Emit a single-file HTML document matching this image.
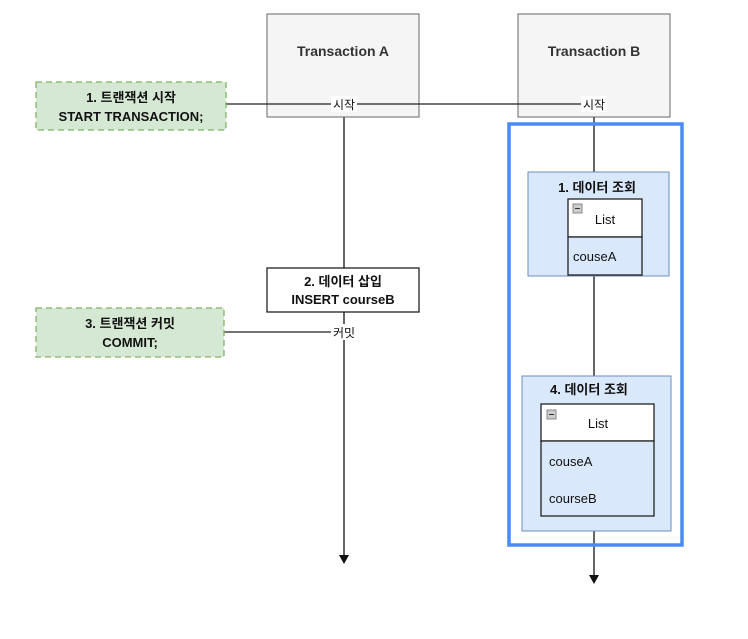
<!DOCTYPE html>
<html><head><meta charset="utf-8"><style>
body{margin:0;background:#fff;}
svg text{font-family:"Liberation Sans","Noto Sans CJK KR",sans-serif;}
</style></head><body>
<svg width="748" height="634" xmlns="http://www.w3.org/2000/svg">
<rect width="748" height="634" fill="#fff"/>
<!-- lifelines -->
<line x1="344" y1="117" x2="344" y2="556" stroke="#333" stroke-width="1.5"/>
<polygon points="339,555 349,555 344,564" fill="#111"/>
<line x1="594" y1="117" x2="594" y2="576" stroke="#333" stroke-width="1.5"/>
<polygon points="589,575 599,575 594,584" fill="#111"/>
<!-- headers -->
<rect x="267" y="14" width="152" height="103" fill="#f5f5f5" stroke="#666"/>
<text x="343" y="56" text-anchor="middle" font-size="14" font-weight="bold" fill="#333">Transaction A</text>
<rect x="518" y="14" width="152" height="103" fill="#f5f5f5" stroke="#666"/>
<text x="594" y="56" text-anchor="middle" font-size="14" font-weight="bold" fill="#333">Transaction B</text>
<!-- start line -->
<line x1="226" y1="104" x2="594" y2="104" stroke="#222" stroke-width="1.3"/>
<rect x="36" y="82" width="190" height="48" fill="#d5e8d4" stroke="#82b366" stroke-dasharray="6,4" stroke-width="1.3"/>
<text x="131" y="102" text-anchor="middle" font-size="13" font-weight="bold" fill="#111">1. 트랜잭션 시작</text>
<text x="131" y="121" text-anchor="middle" font-size="13" font-weight="bold" fill="#111">START TRANSACTION;</text>
<rect x="331" y="96" width="26" height="16" fill="#fff"/>
<text x="344" y="109" text-anchor="middle" font-size="12" fill="#111">시작</text>
<rect x="581" y="96" width="26" height="16" fill="#fff"/>
<text x="594" y="109" text-anchor="middle" font-size="12" fill="#111">시작</text>
<!-- blue outer -->
<rect x="509" y="124" width="173" height="421" fill="none" stroke="#4a8af4" stroke-width="3.5"/>
<!-- box 1 -->
<rect x="527" y="251" width="0" height="0"/>
<rect x="528" y="172" width="141" height="104" fill="#dae8fc" stroke="#6c8ebf" stroke-width="1"/>
<text x="597" y="192" text-anchor="middle" font-size="13" font-weight="bold" fill="#111">1. 데이터 조회</text>
<rect x="568" y="199" width="74" height="38" fill="#fff" stroke="#222" stroke-width="1.3"/>
<rect x="568" y="237" width="74" height="38" fill="#dae8fc" stroke="#222" stroke-width="1.3"/>
<rect x="573" y="204" width="9" height="9" fill="#ccc" stroke="#888"/><line x1="575" y1="208.5" x2="580" y2="208.5" stroke="#333"/>
<text x="605" y="224" text-anchor="middle" font-size="13" fill="#111">List</text>
<text x="573" y="261" font-size="13" fill="#111">couseA</text>
<!-- box 2 -->
<rect x="267" y="268" width="152" height="44" fill="#fff" stroke="#222" stroke-width="1.3"/>
<text x="343" y="286" text-anchor="middle" font-size="13" font-weight="bold" fill="#111">2. 데이터 삽입</text>
<text x="343" y="304" text-anchor="middle" font-size="13" font-weight="bold" fill="#111">INSERT courseB</text>
<!-- commit -->
<line x1="224" y1="332" x2="344" y2="332" stroke="#222" stroke-width="1.3"/>
<rect x="36" y="308" width="188" height="49" fill="#d5e8d4" stroke="#82b366" stroke-dasharray="6,4" stroke-width="1.3"/>
<text x="130" y="328" text-anchor="middle" font-size="13" font-weight="bold" fill="#111">3. 트랜잭션 커밋</text>
<text x="130" y="347" text-anchor="middle" font-size="13" font-weight="bold" fill="#111">COMMIT;</text>
<rect x="331" y="324" width="26" height="16" fill="#fff"/>
<text x="344" y="337" text-anchor="middle" font-size="12" fill="#111">커밋</text>
<!-- box 4 -->
<rect x="522" y="376" width="149" height="155" fill="#dae8fc" stroke="#6c8ebf" stroke-width="1"/>
<text x="550" y="394" font-size="13" font-weight="bold" fill="#111">4. 데이터 조회</text>
<rect x="541" y="404" width="113" height="37" fill="#fff" stroke="#222" stroke-width="1.3"/>
<rect x="541" y="441" width="113" height="75" fill="#dae8fc" stroke="#222" stroke-width="1.3"/>
<rect x="547" y="410" width="9" height="9" fill="#ccc" stroke="#888"/><line x1="549" y1="414.5" x2="554" y2="414.5" stroke="#333"/>
<text x="598" y="428" text-anchor="middle" font-size="13" fill="#111">List</text>
<text x="549" y="466" font-size="13" fill="#111">couseA</text>
<text x="549" y="503" font-size="13" fill="#111">courseB</text>
</svg>
</body></html>
